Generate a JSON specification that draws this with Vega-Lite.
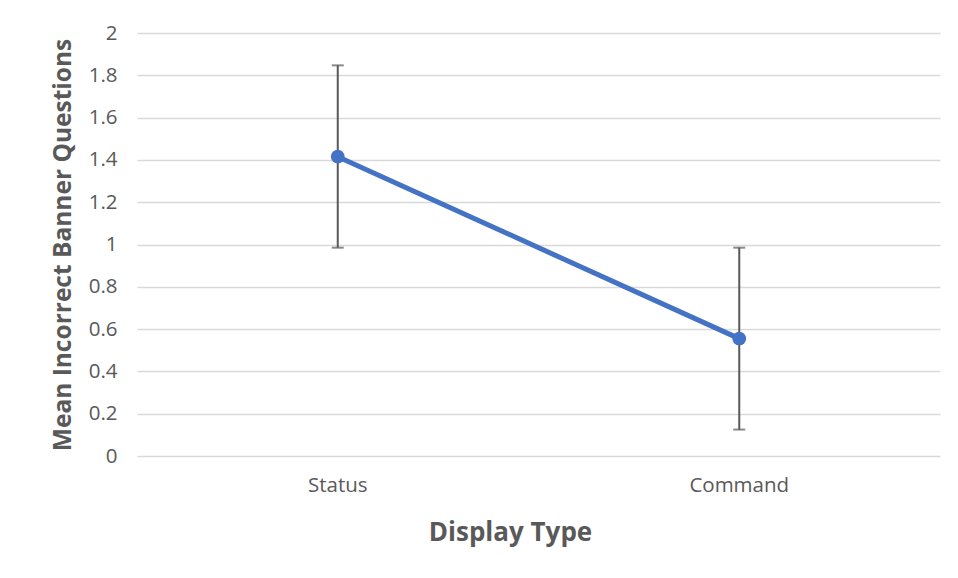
{
  "$schema": "https://vega.github.io/schema/vega-lite/v6.json",
  "width": 803,
  "height": 423,
  "padding": {"left": 137, "top": 33, "right": 18, "bottom": 122},
  "autosize": {"type": "none"},
  "background": "white",
  "config": {
    "view": {"stroke": null},
    "font": "Open Sans"
  },
  "data": {
    "values": [
      {"type": "Status", "mean": 1.415, "lo": 0.985, "hi": 1.847},
      {"type": "Command", "mean": 0.555, "lo": 0.125, "hi": 0.985}
    ]
  },
  "encoding": {
    "x": {
      "field": "type",
      "type": "nominal",
      "sort": ["Status", "Command"],
      "scale": {"paddingInner": 0, "paddingOuter": 0},
      "axis": {
        "title": "Display Type",
        "labelAngle": 0,
        "labelFontSize": 20.5,
        "labelColor": "#595959",
        "labelPadding": 19,
        "titleFontSize": 26,
        "titleFontWeight": "bold",
        "titleColor": "#595959",
        "titlePadding": 24,
        "titleX": 373,
        "domain": false,
        "ticks": false
      }
    }
  },
  "layer": [
    {
      "mark": {"type": "rule", "color": "#595959", "strokeWidth": 2},
      "encoding": {
        "y": {"field": "lo", "type": "quantitative"},
        "y2": {"field": "hi"}
      }
    },
    {
      "mark": {"type": "tick", "orient": "horizontal", "color": "#595959", "thickness": 2, "size": 12},
      "encoding": {"y": {"field": "lo", "type": "quantitative"}}
    },
    {
      "mark": {"type": "tick", "orient": "horizontal", "color": "#595959", "thickness": 2, "size": 12},
      "encoding": {"y": {"field": "hi", "type": "quantitative"}}
    },
    {
      "mark": {"type": "line", "color": "#4472C4", "strokeWidth": 5, "point": {"filled": true, "size": 190, "color": "#4472C4", "opacity": 1}},
      "encoding": {
        "y": {
          "field": "mean",
          "type": "quantitative",
          "scale": {"domain": [0, 2]},
          "axis": {
            "title": "Mean Incorrect Banner Questions",
            "values": [0, 0.2, 0.4, 0.6, 0.8, 1, 1.2, 1.4, 1.6, 1.8, 2],
            "format": "~g",
            "labelFontSize": 20.5,
            "labelColor": "#595959",
            "labelPadding": 20,
            "titleFontSize": 24.5,
            "titleFontWeight": "bold",
            "titleColor": "#595959",
            "titlePadding": 13,
            "gridColor": "#d9d9d9",
            "gridWidth": 1.5,
            "domain": false,
            "ticks": false
          }
        }
      }
    }
  ]
}
